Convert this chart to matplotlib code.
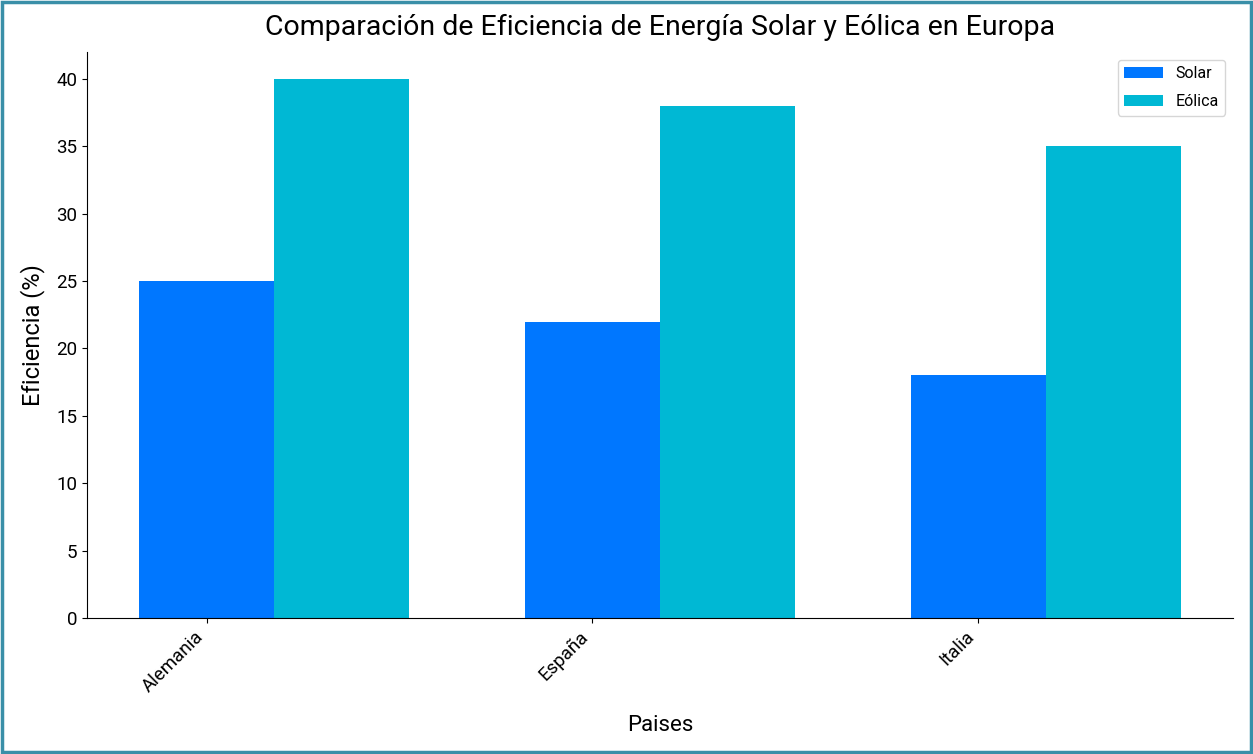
import matplotlib.pyplot as plt
import matplotlib.patches as mpatches
import numpy as np

paises = ['Alemania', 'España', 'Italia']
solar = [25, 22, 18]
eolica = [40, 38, 35]

plt.rcParams['font.family'] = ['Roboto', 'DejaVu Sans']

x = np.arange(len(paises))
width = 0.35

fig = plt.figure(figsize=(12.53, 7.54), dpi=100)
ax = fig.add_axes([0.0694, 0.1804, 0.9146, 0.7506])

ax.bar(x, solar, width, label='Solar', color='#0077ff')
ax.bar(x + width, eolica, width, label='Eólica', color='#00b8d4')

ax.set_title('Comparación de Eficiencia de Energía Solar y Eólica en Europa', fontsize=20.5, pad=12)
ax.set_xlabel('Paises', fontsize=16, labelpad=14)
ax.set_ylabel('Eficiencia (%)', fontsize=17, labelpad=8)
ax.set_xticks(x)
ax.set_xticklabels(paises, rotation=45, ha='right', fontsize=13.5)
ax.tick_params(axis='y', labelsize=13.5)
ax.spines['top'].set_visible(False)
ax.spines['right'].set_visible(False)
ax.legend(loc='upper right', fontsize=11.5, labelspacing=0.8, handlelength=2.4)

# teal frame around the whole figure
fig.patches.append(mpatches.Rectangle((0.0015, 0.002), 0.997, 0.996, transform=fig.transFigure,
                                      fill=False, edgecolor='#3a8fa8', linewidth=2.5))

fig.savefig('out.png', dpi=100)
